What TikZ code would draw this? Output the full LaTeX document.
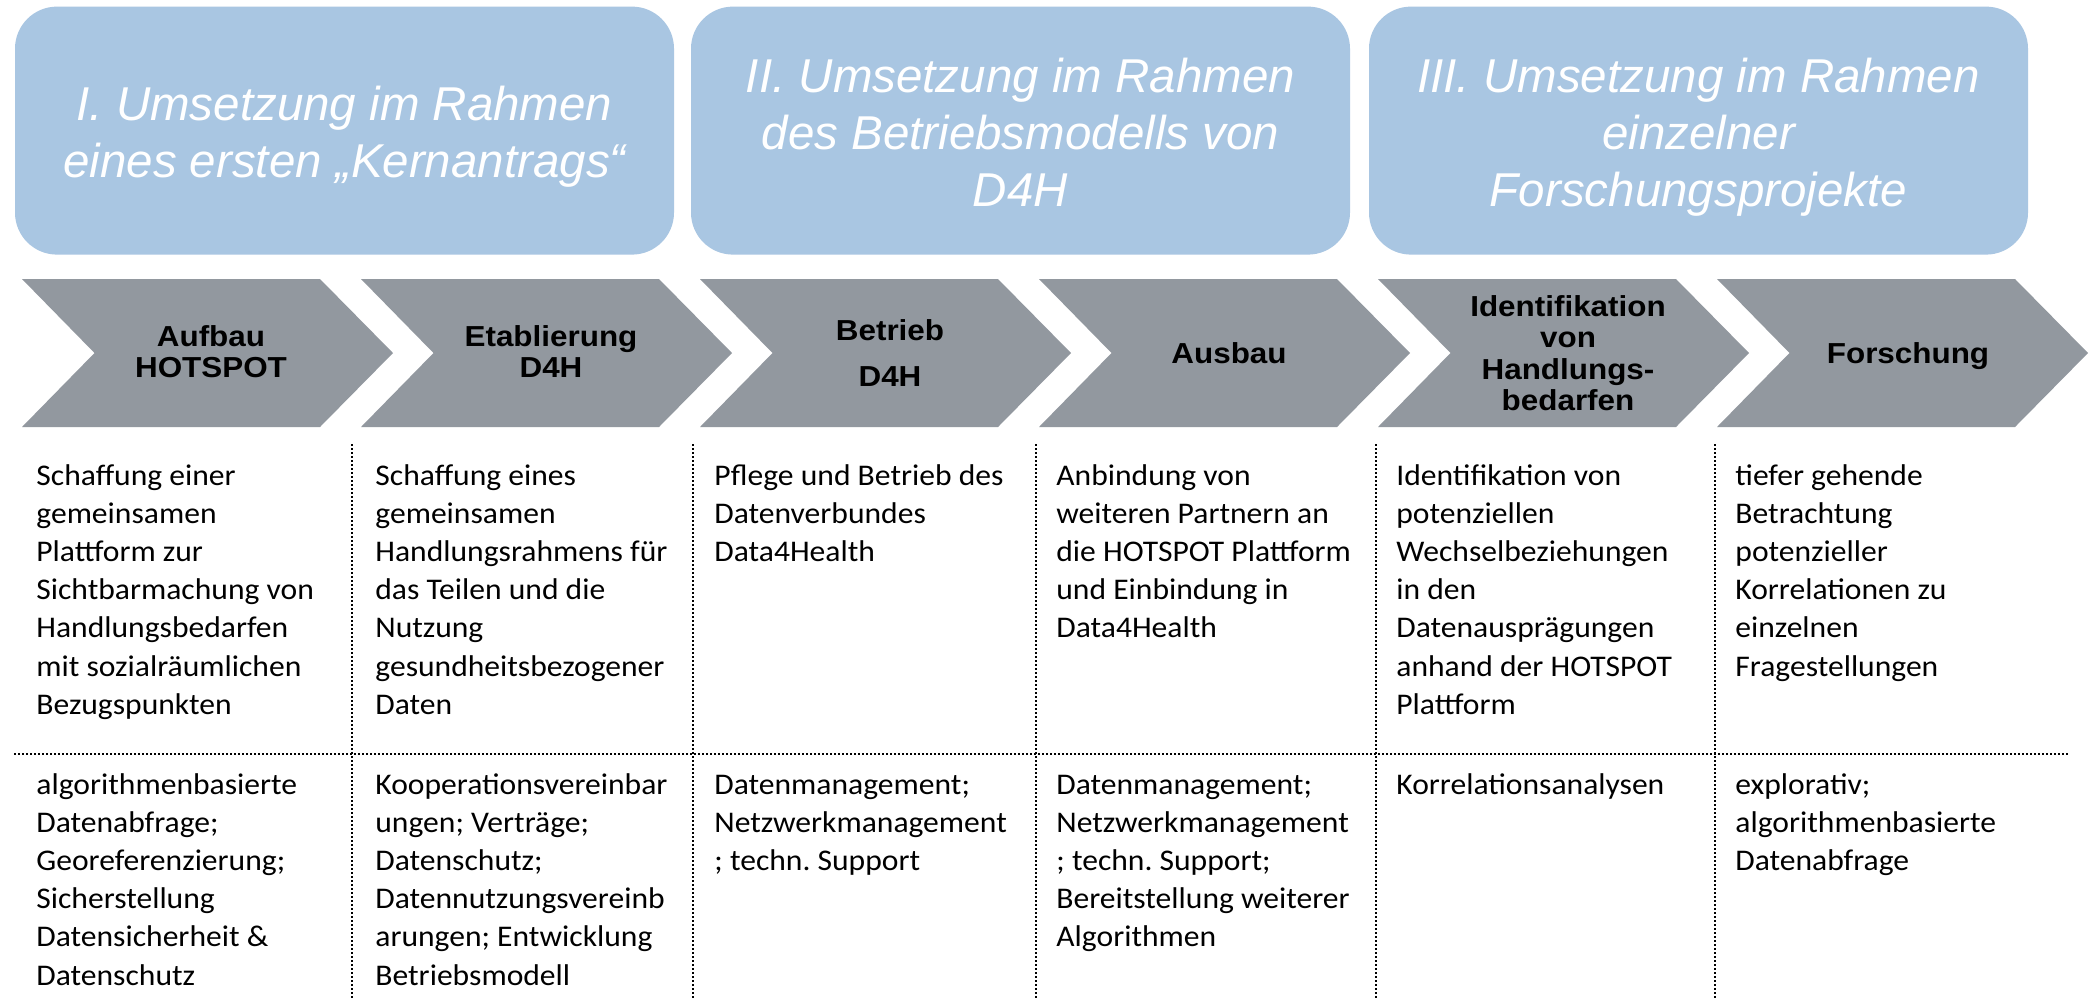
\documentclass[tikz,border=0pt]{standalone}
\usepackage{fontspec}
\setmainfont{Liberation Sans}
\newfontfamily\bodyfont[FakeStretch=1.053]{Carlito}
\newfontfamily\headfont{Liberation Sans}
\newfontfamily\chevfont[FakeStretch=1.087]{Liberation Sans}
\definecolor{topblue}{RGB}{169,198,226}
\definecolor{chevgray}{RGB}{146,152,159}
\frenchspacing
\newcommand{\lines}[2]{\begin{tabular}[t]{@{}#1@{}}#2\end{tabular}}
\tikzset{
  topbox/.style={draw=none, fill=topblue, rounded corners=21pt, minimum width=329.5pt, minimum height=124pt, inner sep=0pt},
  toptext/.style={text=white, font=\headfont\itshape\fontsize{23.75pt}{28.65pt}\selectfont, inner sep=0pt, anchor=base},
  chev/.style={fill=chevgray, draw=none},
  chevtext/.style={font=\chevfont\bfseries\fontsize{14.45pt}{15.6pt}\selectfont, inner sep=0pt, anchor=base},
  bodytext/.style={font=\bodyfont\frenchspacing\fontsize{15pt}{19.1pt}\selectfont, inner sep=0pt, anchor=base west},
  divider/.style={line width=0.9pt, dash pattern=on 0.9pt off 1.1pt}
}
\begin{document}
\begin{tikzpicture}[x=0.5pt,y=-0.5pt]
\useasboundingbox[fill=white] (0,0) rectangle (2100,998);

% top phase boxes
\node[topbox] (b1) at (344.5,130.6) {};
\node[topbox] (b2) at (1020.5,130.6) {};
\node[topbox] (b3) at (1698.5,130.6) {};
\node[toptext] (t1) at (344.5,120) {\lines{c}{I. Umsetzung im Rahmen\\eines ersten „Kernantrags“}};
\node[toptext] (t2) at (1020.5,92) {\lines{c}{II. Umsetzung im Rahmen\\des Betriebsmodells von\\D4H}};
\node[toptext] (t3) at (1698.5,92) {\lines{c}{III. Umsetzung im Rahmen\\einzelner\\Forschungsprojekte}};

% chevrons
\foreach \L in {22,361,700,1039,1378,1717}{
  \path[chev] (\L,279) -- ({\L+298},279) -- ({\L+371},353) -- ({\L+298},427) -- (\L,427) -- ({\L+72.5},353) -- cycle;
}
\node[chevtext] (c1) at (211,346.5) {\lines{c}{Aufbau\\HOTSPOT}};
\node[chevtext] (c2) at (551,346.5) {\lines{c}{Etablierung\\D4H}};
\node[chevtext] (c3) at (890,340) {\lines{c}{Betrieb\\[7.4pt]D4H}};
\node[chevtext] (c4) at (1229,363) {Ausbau};
\node[chevtext] (c5) at (1568,316.7) {\lines{c}{Identifikation\\von\\Handlungs-\\bedarfen}};
\node[chevtext] (c6) at (1908,363) {Forschung};

% dividers
\foreach \X in {352,693,1036,1376,1715}{
  \draw[divider] (\X,444) -- (\X,998);
}
\draw[divider] (14,754) -- (2069,754);

% row 1
\node[bodytext] (r1a) at (36,485) {\lines{l}{Schaffung einer\\gemeinsamen\\Plattform zur\\Sichtbarmachung von\\Handlungsbedarfen\\mit sozialräumlichen\\Bezugspunkten}};
\node[bodytext] (r1b) at (375,485) {\lines{l}{Schaffung eines\\gemeinsamen\\Handlungsrahmens für\\das Teilen und die\\Nutzung\\gesundheitsbezogener\\Daten}};
\node[bodytext] (r1c) at (714,485) {\lines{l}{Pflege und Betrieb des\\Datenverbundes\\Data4Health}};
\node[bodytext] (r1d) at (1056,485) {\lines{l}{Anbindung von\\weiteren Partnern an\\die HOTSPOT Plattform\\und Einbindung in\\Data4Health}};
\node[bodytext] (r1e) at (1396,485) {\lines{l}{Identifikation von\\potenziellen\\Wechselbeziehungen\\in den\\Datenausprägungen\\anhand der HOTSPOT\\Plattform}};
\node[bodytext] (r1f) at (1735,485) {\lines{l}{tiefer gehende\\Betrachtung\\potenzieller\\Korrelationen zu\\einzelnen\\Fragestellungen}};

% row 2
\node[bodytext] (r2a) at (36,794) {\lines{l}{algorithmenbasierte\\Datenabfrage;\\Georeferenzierung;\\Sicherstellung\\Datensicherheit \&\\Datenschutz}};
\node[bodytext] (r2b) at (375,794) {\lines{l}{Kooperationsvereinbar\\ungen; Verträge;\\Datenschutz;\\Datennutzungsvereinb\\arungen; Entwicklung\\Betriebsmodell}};
\node[bodytext] (r2c) at (714,794) {\lines{l}{Datenmanagement;\\Netzwerkmanagement\\; techn. Support}};
\node[bodytext] (r2d) at (1056,794) {\lines{l}{Datenmanagement;\\Netzwerkmanagement\\; techn. Support;\\Bereitstellung weiterer\\Algorithmen}};
\node[bodytext] (r2e) at (1396,794) {Korrelationsanalysen};
\node[bodytext] (r2f) at (1735,794) {\lines{l}{explorativ;\\algorithmenbasierte\\Datenabfrage}};
\end{tikzpicture}
\end{document}
